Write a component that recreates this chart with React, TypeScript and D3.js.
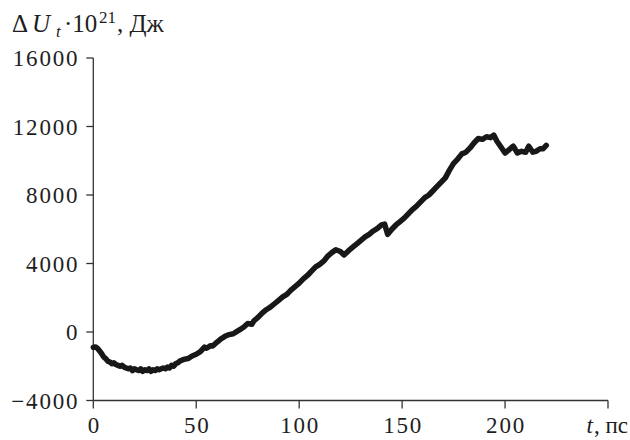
import React from "react";
import * as d3 from "d3";

const times: number[] = [
  0, 1, 2, 3, 4, 5, 6, 7, 8, 9, 10, 11, 12, 13, 14, 15, 16, 17, 18, 19, 20, 21, 22, 23, 24, 25, 26, 27, 28, 29, 30,
  31, 32, 33, 34, 35, 36, 37, 38, 39, 40, 41, 42, 43, 44, 46, 48, 50, 52, 54, 55, 57, 58, 60, 62, 63, 64, 66, 68,
  70, 72, 73, 75, 77, 78, 80, 82, 84, 86, 88, 90, 92, 94, 96, 98, 100, 102, 104, 106, 108, 110, 112, 114, 116,
  117.8, 120, 121.8, 124, 126, 128, 130, 132, 134, 136, 138, 140, 141.5, 143, 145, 147, 149, 151, 153, 155, 157,
  159, 161, 163, 165, 167, 169, 171, 173, 175, 177, 179, 181, 183, 185, 187, 189, 191, 193, 194.5, 196, 198, 200,
  202, 204, 206, 208, 210, 211.5, 213.5, 215, 217, 218.5, 220,
];
const energy: number[] = [
  -900, -870, -950, -1100, -1250, -1450, -1550, -1700, -1750, -1850, -1800, -1900, -1950, -2000, -1950, -2050,
  -2100, -2150, -2100, -2250, -2150, -2200, -2250, -2150, -2300, -2200, -2250, -2150, -2300, -2200, -2250, -2150,
  -2200, -2150, -2100, -2150, -2050, -2100, -1950, -2000, -1850, -1800, -1700, -1650, -1600, -1550, -1400, -1300,
  -1150, -880, -950, -800, -820, -600, -400, -330, -250, -150, -100, 50, 200, 280, 500, 450, 650, 850, 1100, 1300,
  1450, 1650, 1850, 2050, 2200, 2450, 2650, 2850, 3100, 3300, 3550, 3800, 3950, 4150, 4450, 4650, 4800, 4700,
  4500, 4750, 4950, 5150, 5350, 5550, 5700, 5900, 6050, 6250, 6300, 5700, 6000, 6250, 6450, 6650, 6900, 7150,
  7350, 7600, 7850, 8000, 8250, 8500, 8750, 9000, 9450, 9850, 10100, 10400, 10500, 10750, 11050, 11300, 11250,
  11400, 11350, 11500, 11150, 10800, 10450, 10650, 10850, 10450, 10550, 10500, 10850, 10500, 10550, 10700, 10700,
  10900,
];
const xTicks: number[] = [0, 50, 100, 150, 200, 250];
const xTickLabels: string[] = ["0", "50", "100", "150", "200", ""];
const yTicks: number[] = [-4000, 0, 4000, 8000, 12000, 16000];
const yTickLabels: string[] = ["\u22124000", "0", "4000", "8000", "12000", "16000"];

const SERIF = '"Liberation Serif", serif';

export default function App() {
  const x = d3.scaleLinear().domain([0, 250]).range([93.3, 608]);
  const y = d3.scaleLinear().domain([-4000, 16000]).range([400.5, 58]);
  const data = times.map((t, i) => [t, energy[i]] as [number, number]);
  const line = d3
    .line<[number, number]>()
    .x((d) => x(d[0]))
    .y((d) => y(d[1]));
  const axisColor = "#333";
  const textColor = "#1e1e1e";
  return (
    <div style={{ position: "absolute", left: 0, top: 0, width: 630, height: 440 }}>
      <svg width={630} height={440}>
        <line x1={x(0)} x2={x(0)} y1={y(16000)} y2={y(-4000)} stroke={axisColor} strokeWidth={1.3} />
        <line x1={x(0)} x2={x(250)} y1={y(-4000)} y2={y(-4000)} stroke={axisColor} strokeWidth={1.3} />
        {yTicks.map((v, i) => (
          <g key={"y" + v}>
            <line x1={x(0) - 7} x2={x(0)} y1={y(v)} y2={y(v)} stroke={axisColor} strokeWidth={1.3} />
            <text
              x={x(0) - 14}
              y={y(v) + 8}
              textAnchor="end"
              fill={textColor}
              style={{ fontFamily: SERIF, fontSize: "23px", letterSpacing: "1.8px" }}
            >
              {yTickLabels[i]}
            </text>
          </g>
        ))}
        {xTicks.map((t, i) => (
          <g key={"x" + t}>
            <line x1={x(t)} x2={x(t)} y1={y(-4000)} y2={y(-4000) + 8} stroke={axisColor} strokeWidth={1.3} />
            <text
              x={x(t) + 1}
              y={433}
              textAnchor="middle"
              fill={textColor}
              style={{ fontFamily: SERIF, fontSize: "23px", letterSpacing: "1.8px" }}
            >
              {xTickLabels[i]}
            </text>
          </g>
        ))}
        <text x={628} y={433} textAnchor="end" fill={textColor} style={{ fontFamily: SERIF, fontSize: "23px" }}>
          <tspan fontStyle="italic">t</tspan>
          <tspan dx={1}>, пс</tspan>
        </text>
        <g fill={textColor} style={{ fontFamily: SERIF }}>
          <text x={12} y={32} style={{ fontSize: "25px" }}>Δ</text>
          <text x={32} y={32} style={{ fontSize: "25px", fontStyle: "italic" }}>U</text>
          <text x={56} y={37} style={{ fontSize: "17px", fontStyle: "italic" }}>t</text>
          <text x={64} y={32} style={{ fontSize: "25px" }}>·10</text>
          <text x={99} y={23} style={{ fontSize: "17px" }}>21</text>
          <text x={117} y={32} style={{ fontSize: "25px" }}>, Дж</text>
        </g>
        <path
          d={line(data) || ""}
          fill="none"
          stroke="#181818"
          strokeWidth={5.5}
          strokeLinejoin="round"
          strokeLinecap="round"
        />
      </svg>
    </div>
  );
}
